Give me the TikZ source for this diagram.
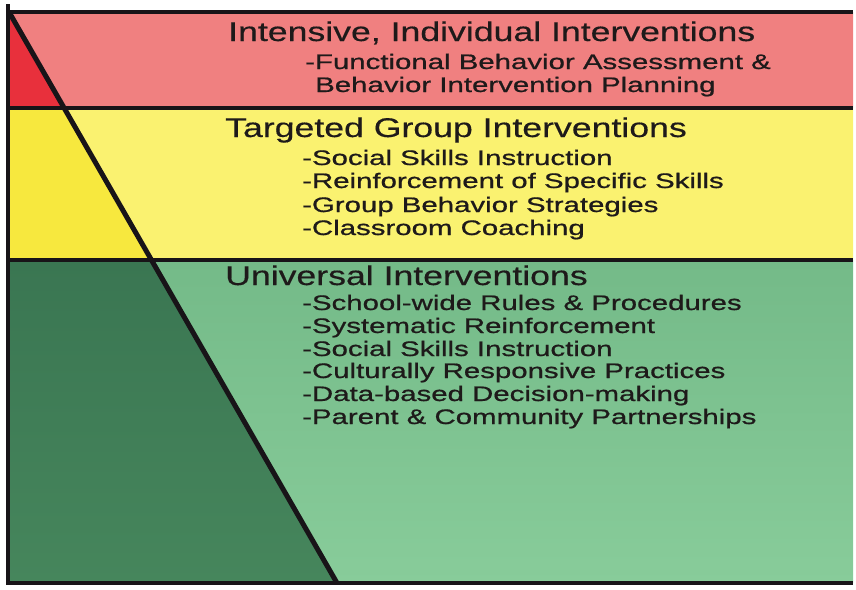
\documentclass[tikz,border=0pt]{standalone}
\usepackage{fontspec}
\newfontfamily\tiertitlefont{Liberation Sans}[FakeStretch=1.32,FakeBold=0.4]
\newfontfamily\tieritemfont{Liberation Sans}[FakeStretch=1.40,FakeBold=0.8]
\definecolor{redL}{RGB}{232,48,60}
\definecolor{redR}{RGB}{240,128,128}
\definecolor{yelL}{RGB}{247,232,62}
\definecolor{yelR}{RGB}{250,242,112}
\definecolor{grnLtop}{RGB}{58,118,82}
\definecolor{grnLbot}{RGB}{70,134,92}
\definecolor{grnRtop}{RGB}{116,186,136}
\definecolor{grnRbot}{RGB}{136,204,154}
\definecolor{rule}{RGB}{24,20,24}
\definecolor{ink}{RGB}{30,26,26}
\tikzset{
  tiertitle/.style={anchor=base west, inner sep=0pt, text=ink, font=\tiertitlefont\fontsize{27}{30}\selectfont},
  tieritem/.style={anchor=base west, inner sep=0pt, text=ink, font=\tieritemfont\fontsize{21}{24}\selectfont},
  bandline/.style={draw=rule, line width=4pt},
  slant/.style={draw=rule, line width=5pt},
}
\begin{document}
\begin{tikzpicture}[x=1pt,y=-1pt]
\useasboundingbox (0,0) rectangle (856,589);
% frame corners and the slanted edge
\coordinate (tl) at (8,12);
\coordinate (tr) at (853,12);
\coordinate (m1l) at (8,108);
\coordinate (m1r) at (853,108);
\coordinate (m2l) at (8,260);
\coordinate (m2r) at (853,260);
\coordinate (bl) at (8,583);
\coordinate (br) at (853,583);
\coordinate (d0) at (9,12);
\coordinate (d1) at (64.2,108);
\coordinate (d2) at (151.6,260);
\coordinate (d3) at (337,583);
% red tier
\fill[redL] (tl) -- (d0) -- (d1) -- (m1l) -- cycle;
\fill[redR] (d0) -- (tr) -- (m1r) -- (d1) -- cycle;
% yellow tier
\fill[yelL] (m1l) -- (d1) -- (d2) -- (m2l) -- cycle;
\fill[yelR] (d1) -- (m1r) -- (m2r) -- (d2) -- cycle;
% green tier
\shade[top color=grnLtop, bottom color=grnLbot] (m2l) -- (d2) -- (d3) -- (bl) -- cycle;
\shade[top color=grnRtop, bottom color=grnRbot] (d2) -- (m2r) -- (br) -- (d3) -- cycle;
% rules
\draw[bandline] (tl) -- (tr);
\draw[bandline] (m1l) -- (m1r);
\draw[bandline] (m2l) -- (m2r);
\draw[bandline] (bl) -- (br);
\draw[bandline] (8,4) -- (8,585);
\draw[slant] (d0) -- (d3);
% intensive tier text
\node[tiertitle] (t1) at (228,41) {Intensive, Individual Interventions};
\node[tieritem] (t1a) at (305,69) {-Functional Behavior Assessment \&};
\node[tieritem] (t1b) at (315,92) {Behavior Intervention Planning};
% targeted tier text
\node[tiertitle] (t2) at (225,137) {Targeted Group Interventions};
\node[tieritem] (t2a) at (302,165) {-Social Skills Instruction};
\node[tieritem] (t2b) at (302,188) {-Reinforcement of Specific Skills};
\node[tieritem] (t2c) at (302,212) {-Group Behavior Strategies};
\node[tieritem] (t2d) at (302,235) {-Classroom Coaching};
% universal tier text
\node[tiertitle] (t3) at (225,285) {Universal Interventions};
\node[tieritem] (t3a) at (302,310) {-School-wide Rules \& Procedures};
\node[tieritem] (t3b) at (302,333) {-Systematic Reinforcement};
\node[tieritem] (t3c) at (302,356) {-Social Skills Instruction};
\node[tieritem] (t3d) at (302,378) {-Culturally Responsive Practices};
\node[tieritem] (t3e) at (302,401) {-Data-based Decision-making};
\node[tieritem] (t3f) at (302,424) {-Parent \& Community Partnerships};
\end{tikzpicture}
\end{document}
